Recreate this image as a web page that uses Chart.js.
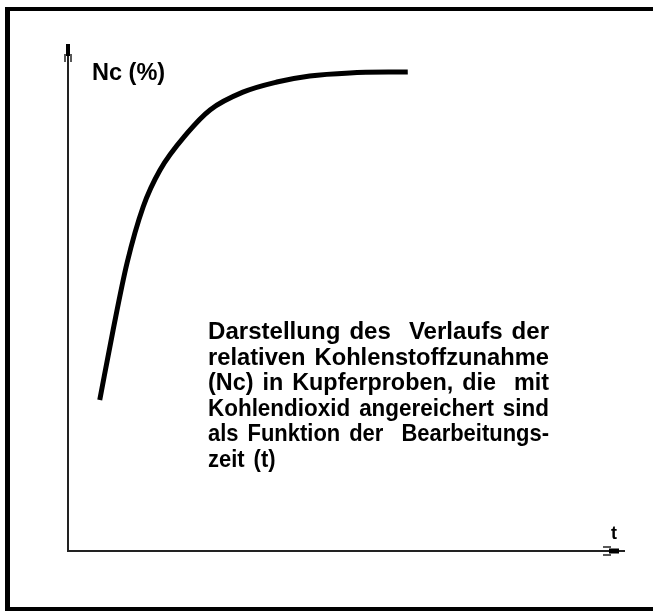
<!DOCTYPE html>
<html>
<head>
<meta charset="utf-8">
<script src="https://cdn.jsdelivr.net/npm/chart.js@4.4.0/dist/chart.umd.min.js"></script>
<style>
  html, body { margin: 0; padding: 0; background: #fff; }
  canvas { display: block; }
</style>
</head>
<body>
<canvas id="chart" width="653" height="611"></canvas>
<script>
// curve (t, Nc) in arbitrary units 0..100
const tValues  = [5.7, 8.1, 10.6, 13.5, 16.5, 21.4, 25.5, 31.4, 37.5, 43.4, 50.6, 61.0];
const ncValues = [29.8, 43.6, 56.8, 67.9, 75.1, 82.4, 87.0, 90.5, 92.5, 93.7, 94.3, 94.5];

const yLabel = 'Nc (%)';
const xLabel = 't';
const captionLines = [
    'Darstellung des  Verlaufs der',
    'relativen Kohlenstoffzunahme',
    '(Nc) in Kupferproben, die  mit',
    'Kohlendioxid angereichert sind',
    'als Funktion der  Bearbeitungs-',
    'zeit (t)'
];

const font = 'bold 24px "Liberation Sans", Arial, sans-serif';
const spaceW = 9;

function drawWord(ctx, w, x, y, sx) {
    ctx.save();
    ctx.translate(x, y);
    ctx.scale(sx, 1);
    ctx.fillText(w, 0, 0);
    ctx.restore();
    return ctx.measureText(w).width * sx;
}

// block text: each full line is squeezed a little so it fills the width
function justify(ctx, line, x, y, sx) {
    const words = line.split(/\s+/);
    const gaps = (line.match(/\s+/g) || []).map(g => g.length);
    let cx = x;
    words.forEach((w, i) => {
        cx += drawWord(ctx, w, cx, y, sx);
        if (i < gaps.length) cx += spaceW * gaps[i];
    });
}

const decorations = {
    id: 'decorations',
    beforeDraw(chart) {
        const ctx = chart.ctx;
        ctx.save();
        ctx.fillStyle = '#fff';
        ctx.fillRect(0, 0, chart.width, chart.height);
        // outer frame (cut off on the right)
        ctx.fillStyle = '#000';
        ctx.fillRect(5, 7, chart.width, 4);
        ctx.fillRect(5, 7, 5, chart.height);
        ctx.fillRect(5, chart.height - 4, chart.width, 4);
        ctx.restore();
    },
    afterDraw(chart) {
        const ctx = chart.ctx;
        const a = chart.chartArea;
        ctx.save();
        ctx.strokeStyle = '#222';
        ctx.fillStyle = '#000';
        ctx.lineWidth = 2;
        // axes
        ctx.beginPath();
        ctx.moveTo(a.left, a.top + 4);
        ctx.lineTo(a.left, a.bottom);
        ctx.lineTo(a.right - 4, a.bottom);
        ctx.stroke();
        // y arrowhead
        ctx.fillRect(a.left - 2, a.top, 4, 12);
        ctx.lineWidth = 1.5;
        ctx.beginPath();
        ctx.moveTo(a.left - 3, a.top + 10);
        ctx.lineTo(a.left - 3, a.top + 18);
        ctx.moveTo(a.left + 3, a.top + 10);
        ctx.lineTo(a.left + 3, a.top + 18);
        ctx.stroke();
        // x arrowhead
        ctx.fillRect(a.right - 16, a.bottom - 2.5, 10, 5);
        ctx.lineWidth = 2;
        ctx.beginPath();
        ctx.moveTo(a.right - 6, a.bottom);
        ctx.lineTo(a.right, a.bottom);
        ctx.stroke();
        ctx.lineWidth = 1.5;
        ctx.beginPath();
        ctx.moveTo(a.right - 22, a.bottom - 4);
        ctx.lineTo(a.right - 14, a.bottom - 4);
        ctx.moveTo(a.right - 22, a.bottom + 4);
        ctx.lineTo(a.right - 14, a.bottom + 4);
        ctx.stroke();

        // labels
        ctx.fillStyle = '#000';
        ctx.textBaseline = 'alphabetic';
        ctx.font = font;
        drawWord(ctx, yLabel, a.left + 24, a.top + 36, 0.98);
        ctx.font = 'bold 18px "Liberation Sans", Arial, sans-serif';
        drawWord(ctx, xLabel, a.right - 14, a.bottom - 12, 1);

        ctx.font = font;
        const boxW = 341;
        let lastSx = 0.95;
        captionLines.forEach((line, i) => {
            const words = line.split(/\s+/);
            const gapUnits = (line.match(/\s+/g) || []).reduce((s, g) => s + g.length, 0);
            const natural = words.reduce((s, w) => s + ctx.measureText(w).width, 0);
            let sx = (boxW - gapUnits * spaceW) / natural;
            if (i === captionLines.length - 1) sx = lastSx;
            else lastSx = sx;
            justify(ctx, line, 208, 339 + i * 25.5, sx);
        });
        ctx.restore();
    }
};

new Chart(document.getElementById('chart'), {
    type: 'line',
    data: {
        datasets: [{
            data: tValues.map((t, i) => ({ x: t, y: ncValues[i] })),
            borderColor: '#000',
            borderWidth: 5,
            pointRadius: 0,
            fill: false,
            cubicInterpolationMode: 'monotone'
        }]
    },
    options: {
        responsive: false,
        animation: false,
        layout: { padding: { left: 68, right: 28, top: 44, bottom: 60 } },
        plugins: { legend: { display: false }, tooltip: { enabled: false } },
        scales: {
            x: { type: 'linear', min: 0, max: 100, display: false },
            y: { type: 'linear', min: 0, max: 100, display: false }
        }
    },
    plugins: [decorations]
});
</script>
</body>
</html>
